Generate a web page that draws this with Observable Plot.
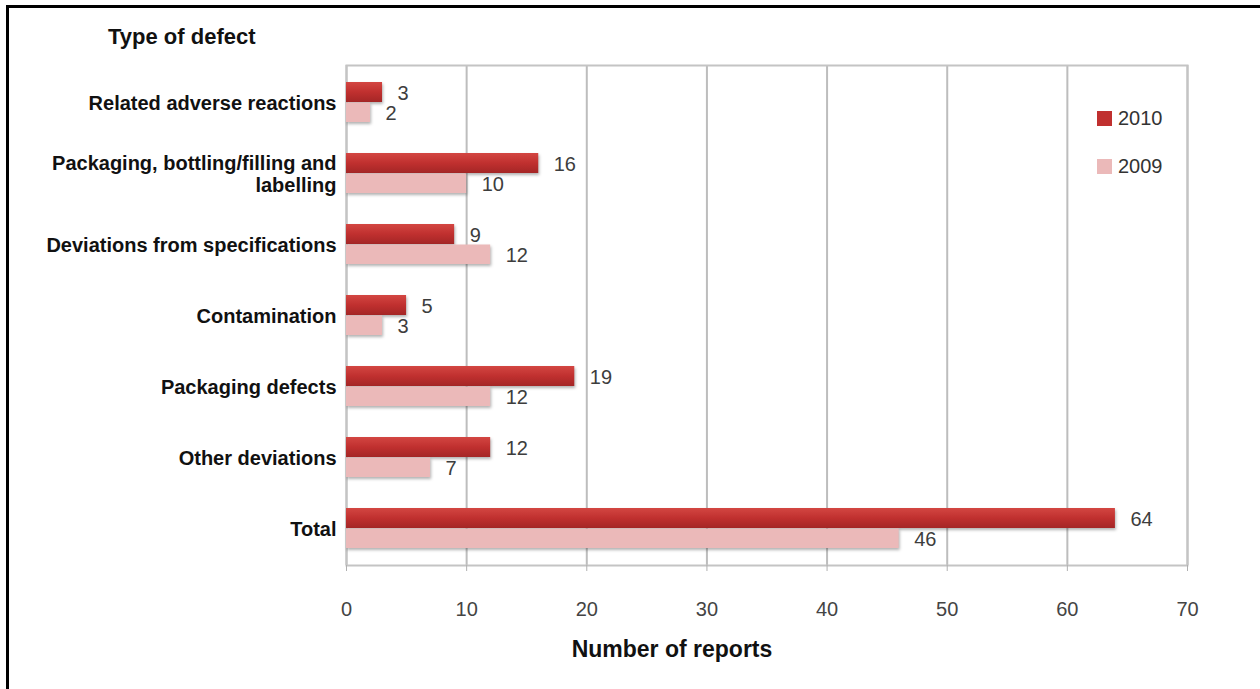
<!DOCTYPE html>
<html>
<head>
<meta charset="utf-8">
<script src="https://cdn.jsdelivr.net/npm/d3@7"></script>
<script src="https://cdn.jsdelivr.net/npm/@observablehq/plot@0.6"></script>
<style>
  html, body { margin: 0; padding: 0; background: #fff; }
  #wrap { position: relative; width: 1260px; height: 689px; overflow: hidden; font-family: "Liberation Sans", Arial, sans-serif; }
  #frameLeft { position: absolute; left: 6px; top: 5px; width: 3px; height: 700px; background: #000; }
  #frameTop { position: absolute; left: 6px; top: 5px; width: 1300px; height: 3px; background: #000; }
  #ytitle { position: absolute; left: 108px; top: 24px; font-size: 22px; font-weight: bold; color: #111; }
  #xtitle { position: absolute; left: 0; width: 1344px; text-align: center; top: 636px; font-size: 23px; font-weight: bold; color: #111; }
  #legend { position: absolute; left: 1097px; top: 106px; }
  .li { display: flex; align-items: center; height: 24px; margin-bottom: 24px; font-size: 20px; color: #333; }
  .sw { width: 15px; height: 15px; margin-right: 6px; }
  #chart { position: absolute; left: 0; top: 0; }
</style>
</head>
<body>
<div id="wrap">
  <div id="chart"></div>
  <div id="frameLeft"></div>
  <div id="frameTop"></div>
  <div id="ytitle"></div>
  <div id="xtitle"></div>
  <div id="legend"></div>
</div>
<script>
const categories = [
  "Related adverse reactions",
  "Packaging, bottling/filling and\nlabelling",
  "Deviations from specifications",
  "Contamination",
  "Packaging defects",
  "Other deviations",
  "Total"
];
const values2010 = [3, 16, 9, 5, 19, 12, 64];
const values2009 = [2, 10, 12, 3, 12, 7, 46];
const years = ["2010", "2009"];
const colors = ["#c0302f", "#ebb9b9"];
const xTicks = [0, 10, 20, 30, 40, 50, 60, 70];
const yTitle = "Type of defect";
const xTitle = "Number of reports";

const data2010 = categories.map((c, i) => ({category: c, value: values2010[i]}));
const data2009 = categories.map((c, i) => ({category: c, value: values2009[i]}));

const plot = Plot.plot({
  width: 1260,
  height: 689,
  marginLeft: 346,
  marginRight: 73,
  marginTop: 65,
  marginBottom: 124,
  style: {background: "transparent", fontFamily: "'Liberation Sans', Arial, sans-serif", fontSize: "20px"},
  x: {domain: [0, 70]},
  y: {type: "band", domain: categories, padding: 0},
  marks: [
    Plot.gridX({ticks: xTicks, stroke: "#bdbdbd", strokeOpacity: 1, strokeWidth: 2}),
    Plot.frame({stroke: "#c4c4c4", strokeWidth: 2}),
    Plot.barX(data2010, {x: "value", y: "category", fill: "url(#grad2010)", insetTop: 15, insetBottom: 36}),
    Plot.barX(data2009, {x: "value", y: "category", fill: colors[1], insetTop: 35.5, insetBottom: 16}),
    Plot.text(data2010, {x: "value", y: "category", text: d => String(d.value), dx: 15, dy: -9, textAnchor: "start", fontSize: 20, fill: "#3d3d3d"}),
    Plot.text(data2009, {x: "value", y: "category", text: d => String(d.value), dx: 15, dy: 11, textAnchor: "start", fontSize: 20, fill: "#3d3d3d"}),
    Plot.axisX({ticks: xTicks, tickSize: 6, tickPadding: 30, stroke: "#b0b0b0", fill: "#444", fontSize: 20, label: null}),
    Plot.axisY({tickSize: 0, tickPadding: 10, fill: "#111", fontSize: 20, fontWeight: "bold", lineHeight: 1.1, label: null})
  ]
});

// gradient for 2010 bars
const ns = "http://www.w3.org/2000/svg";
const defs = document.createElementNS(ns, "defs");
defs.innerHTML = `<linearGradient id="grad2010" x1="0" y1="0" x2="0" y2="1">
  <stop offset="0" stop-color="#d34642"/>
  <stop offset="0.5" stop-color="${colors[0]}"/>
  <stop offset="1" stop-color="#a42626"/>
</linearGradient>`;
plot.insertBefore(defs, plot.firstChild);
plot.querySelectorAll("g[aria-label='bar']").forEach(g => g.style.filter = "drop-shadow(1px 2px 1.5px rgba(0,0,0,0.3))");

document.getElementById("chart").appendChild(plot);
document.getElementById("ytitle").textContent = yTitle;
document.getElementById("xtitle").textContent = xTitle;

const legend = document.getElementById("legend");
years.forEach((yr, i) => {
  const row = document.createElement("div");
  row.className = "li";
  const sw = document.createElement("div");
  sw.className = "sw";
  sw.style.background = colors[i];
  const t = document.createElement("span");
  t.textContent = yr;
  row.appendChild(sw);
  row.appendChild(t);
  legend.appendChild(row);
});
</script>
</body>
</html>
